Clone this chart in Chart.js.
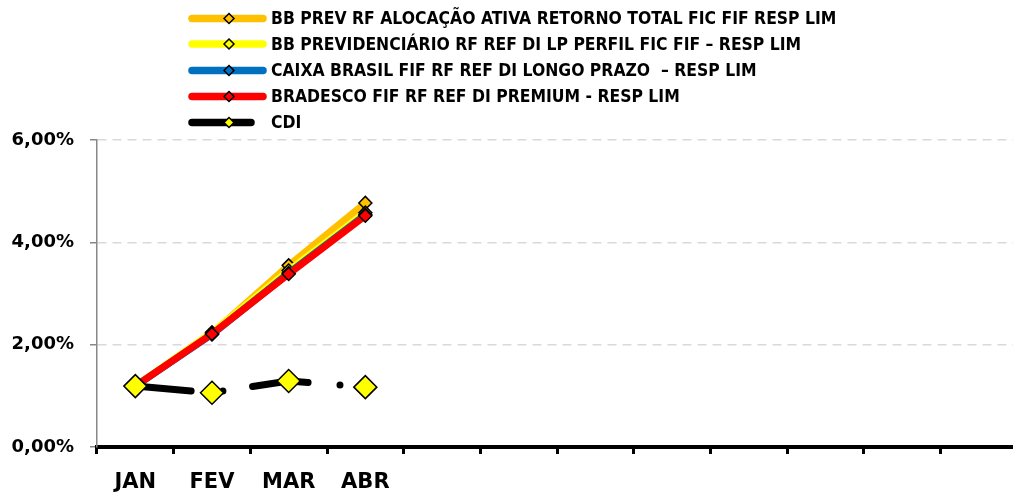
<!DOCTYPE html>
<html>
<head>
<meta charset="utf-8">
<script src="https://cdn.jsdelivr.net/npm/chart.js@4.4.1/dist/chart.umd.min.js"></script>
<style>
html,body{margin:0;padding:0;background:#fff;overflow:hidden;}
#wrap{width:1030px;height:492px;}
</style>
</head>
<body>
<div id="wrap"><canvas id="c" width="1030" height="492"></canvas></div>
<script>
const categories = ['JAN','FEV','MAR','ABR','','','','','','','',''];
const seriesNames = [
  'BB PREV RF ALOCAÇÃO ATIVA RETORNO TOTAL FIC FIF RESP LIM',
  'BB PREVIDENCIÁRIO RF REF DI LP PERFIL FIC FIF – RESP LIM',
  'CAIXA BRASIL FIF RF REF DI LONGO PRAZO  – RESP LIM',
  'BRADESCO FIF RF REF DI PREMIUM - RESP LIM',
  'CDI'
];
const bbPrevAlocacao = [1.19, 2.22, 3.55, 4.77];
const bbPrevidenciario = [1.19, 2.24, 3.45, 4.58];
const caixaBrasil = [1.19, 2.20, 3.40, 4.54];
const bradesco = [1.19, 2.21, 3.38, 4.52];
const cdi = [1.19, 1.06, 1.29, 1.17];
const yTicks = [0, 2, 4, 6];

const AXIS_FONT = '"DejaVu Sans", sans-serif';
const LEGEND_FONT = '"DejaVu Sans Condensed", "DejaVu Sans", sans-serif';
const cdiDash = [56, 32, 0, 30];

function ds(label, data, color, markerFill, order, extra) {
  return Object.assign({
    label, data,
    borderColor: color,
    backgroundColor: markerFill,
    borderWidth: 7,
    borderCapStyle: 'round',
    borderJoinStyle: 'round',
    pointStyle: 'rectRot',
    pointRadius: 6.5,
    pointBackgroundColor: markerFill,
    pointBorderColor: '#000',
    pointBorderWidth: 1.5,
    tension: 0,
    fill: false,
    order
  }, extra || {});
}

const legendPlugin = {
  id: 'customLegend',
  afterDraw(chart) {
    const ctx = chart.ctx;
    const x0 = 192, x1 = 263, mx = 229, tx = 271;
    const ys = [18.5, 44, 70.5, 96.5, 122.5];
    ctx.save();
    chart.data.datasets.forEach((d, i) => {
      const y = ys[i];
      ctx.beginPath();
      ctx.lineWidth = 7.5;
      ctx.lineCap = 'round';
      ctx.strokeStyle = d.borderColor;
      ctx.moveTo(x0, y);
      ctx.lineTo(d.borderDash ? 251 : x1, y);
      ctx.stroke();
      ctx.beginPath();
      const r = 5;
      ctx.moveTo(mx, y - r); ctx.lineTo(mx + r, y); ctx.lineTo(mx, y + r); ctx.lineTo(mx - r, y); ctx.closePath();
      ctx.fillStyle = d.pointBackgroundColor;
      ctx.fill();
      ctx.lineWidth = 1.5;
      ctx.strokeStyle = '#000';
      ctx.stroke();
      ctx.fillStyle = '#000';
      ctx.font = 'bold 17.4px ' + LEGEND_FONT;
      ctx.textBaseline = 'middle';
      ctx.textAlign = 'left';
      ctx.fillText(d.label, tx, y + 1);
    });
    ctx.restore();
  }
};

new Chart(document.getElementById('c'), {
  type: 'line',
  data: {
    labels: categories,
    datasets: [
      ds(seriesNames[0], bbPrevAlocacao, '#FFC000', '#FFC000', 5),
      ds(seriesNames[1], bbPrevidenciario, '#FFFF00', '#FFFF00', 4),
      ds(seriesNames[2], caixaBrasil, '#0070C0', '#0070C0', 3),
      ds(seriesNames[3], bradesco, '#FF0000', '#FF0000', 2),
      ds(seriesNames[4], cdi, '#000000', '#FFFF00', 1, {borderDash: cdiDash, pointRadius: 11.5})
    ]
  },
  options: {
    responsive: false,
    animation: false,
    layout: {padding: {top: 140, left: 0, right: 9, bottom: 0}},
    plugins: {legend: {display: false}, tooltip: {enabled: false}},
    scales: {
      x: {
        offset: true,
        grid: {offset: true, drawOnChartArea: false, tickLength: 7, tickColor: '#000', tickWidth: 3},
        border: {color: '#000', width: 4},
        ticks: {color: '#000', font: {family: AXIS_FONT, size: 21, weight: 'bold'}, padding: 16, maxRotation: 0, autoSkip: false},
        afterFit(s) { s.height = 45; }
      },
      y: {
        min: 0, max: 6,
        afterBuildTicks(s) { s.ticks = yTicks.map(v => ({value: v})); },
        grid: {color: '#D9D9D9', lineWidth: 1.5, tickLength: 7, tickColor: '#888', tickBorderDash: [], drawTicks: true},
        border: {color: '#888', width: 1.5, dash: [9, 6]},
        ticks: {color: '#000', padding: 16, font: {family: AXIS_FONT, size: 18, weight: 'bold'},
          callback: v => v.toFixed(2).replace('.', ',') + '%'},
        afterFit(s) { s.width = 97; }
      }
    }
  },
  plugins: [legendPlugin]
});
</script>
</body>
</html>
